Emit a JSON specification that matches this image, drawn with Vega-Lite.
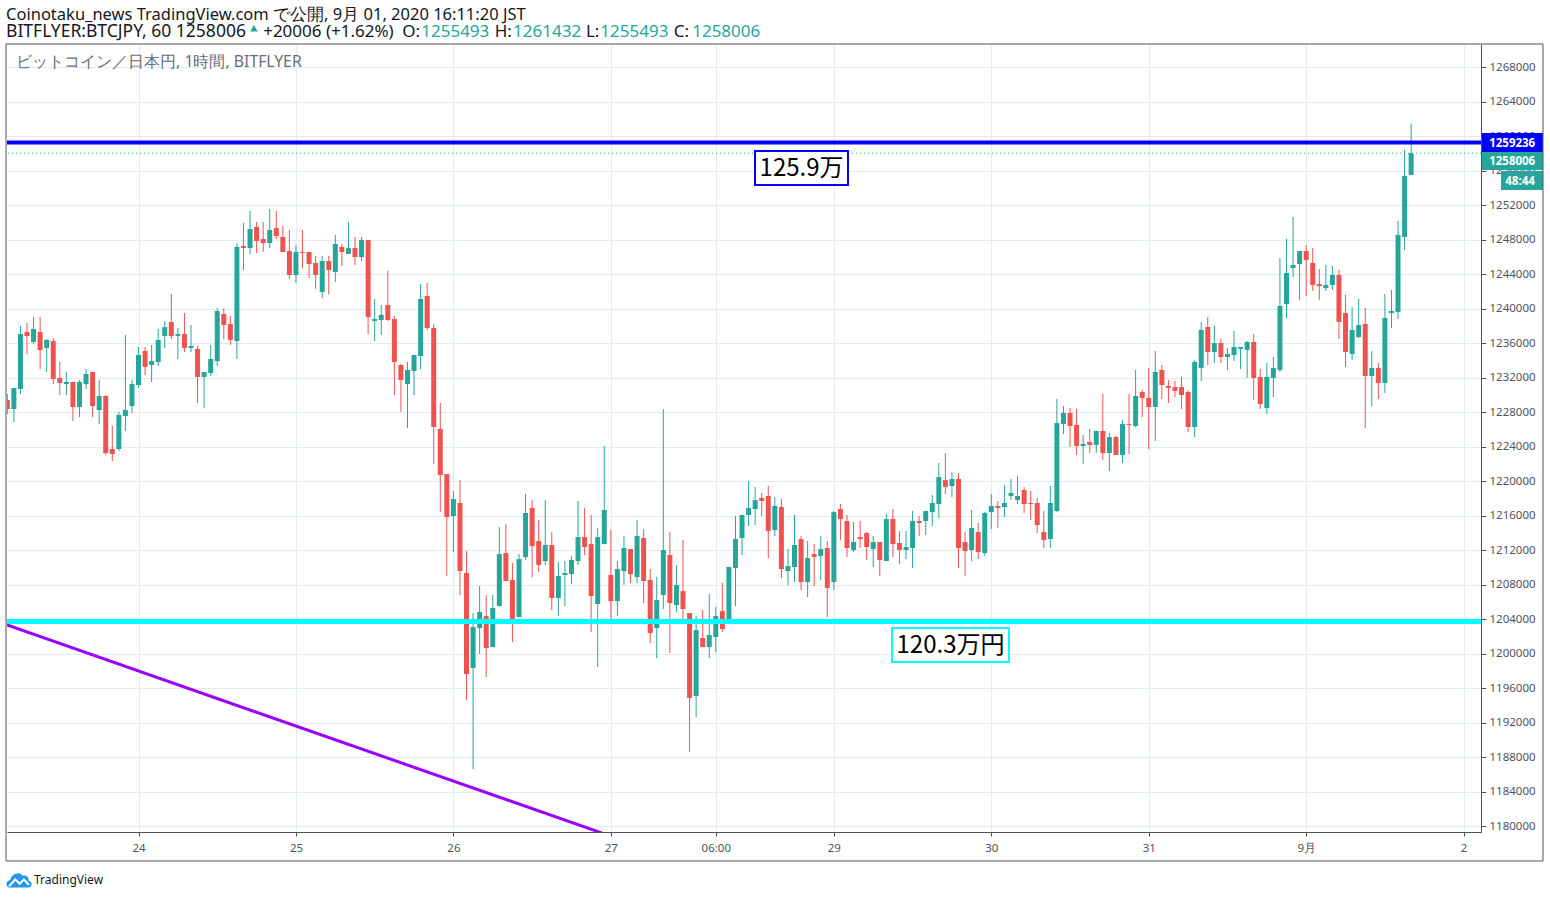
{
  "$schema": "https://vega.github.io/schema/vega-lite/v6.json",
  "description": "BTCJPY hourly candles from BITFLYER with marked price levels",
  "width": 1474,
  "height": 788,
  "autosize": {"type": "none"},
  "padding": {"left": 7, "top": 44, "right": 69, "bottom": 66},
  "background": "#ffffff",
  "config": {"view": {"stroke": null}, "text": {"font": "Noto Sans"}},
  "datasets": {
    "candles": [
      {"t":0,"open":1229390,"high":1230090,"low":1227770,"close":1228350},
      {"t":1,"open":1228350,"high":1230780,"low":1226840,"close":1230780},
      {"t":2,"open":1230670,"high":1237970,"low":1230090,"close":1237040},
      {"t":3,"open":1237280,"high":1238320,"low":1234720,"close":1236810},
      {"t":4,"open":1236120,"high":1239010,"low":1235880,"close":1237620},
      {"t":5,"open":1237280,"high":1239010,"low":1232980,"close":1235190},
      {"t":6,"open":1235420,"high":1236460,"low":1232640,"close":1236350},
      {"t":7,"open":1236230,"high":1236580,"low":1231250,"close":1231830},
      {"t":8,"open":1231940,"high":1233800,"low":1229970,"close":1231360},
      {"t":9,"open":1231250,"high":1232640,"low":1229970,"close":1231480},
      {"t":10,"open":1231480,"high":1231480,"low":1226960,"close":1228580},
      {"t":11,"open":1228580,"high":1231710,"low":1227420,"close":1231480},
      {"t":12,"open":1231250,"high":1232980,"low":1230670,"close":1232410},
      {"t":13,"open":1232640,"high":1232640,"low":1227420,"close":1228690},
      {"t":14,"open":1228230,"high":1231710,"low":1226610,"close":1229850},
      {"t":15,"open":1229850,"high":1229970,"low":1223010,"close":1223250},
      {"t":16,"open":1223710,"high":1226380,"low":1222320,"close":1223130},
      {"t":17,"open":1223710,"high":1228000,"low":1223480,"close":1227650},
      {"t":18,"open":1227540,"high":1236930,"low":1225800,"close":1228230},
      {"t":19,"open":1228690,"high":1231710,"low":1227880,"close":1231250},
      {"t":20,"open":1231130,"high":1235540,"low":1230780,"close":1234610},
      {"t":21,"open":1235070,"high":1235540,"low":1232290,"close":1233220},
      {"t":22,"open":1233450,"high":1235770,"low":1231480,"close":1233910},
      {"t":23,"open":1233800,"high":1237620,"low":1233330,"close":1236350},
      {"t":24,"open":1236810,"high":1238550,"low":1235420,"close":1237850},
      {"t":25,"open":1238430,"high":1241680,"low":1236460,"close":1236810},
      {"t":26,"open":1236810,"high":1237740,"low":1234140,"close":1237040},
      {"t":27,"open":1237040,"high":1239480,"low":1234960,"close":1235420},
      {"t":28,"open":1235420,"high":1238090,"low":1234960,"close":1235650},
      {"t":29,"open":1235300,"high":1235650,"low":1229040,"close":1232060},
      {"t":30,"open":1232060,"high":1232640,"low":1228460,"close":1232640},
      {"t":31,"open":1232520,"high":1235770,"low":1232170,"close":1234140},
      {"t":32,"open":1233910,"high":1240060,"low":1233330,"close":1239710},
      {"t":33,"open":1239360,"high":1240060,"low":1236460,"close":1238090},
      {"t":34,"open":1238200,"high":1239130,"low":1235770,"close":1236350},
      {"t":35,"open":1236230,"high":1247590,"low":1234140,"close":1247130},
      {"t":36,"open":1247250,"high":1249910,"low":1244460,"close":1247010},
      {"t":37,"open":1247010,"high":1251310,"low":1246320,"close":1249220},
      {"t":38,"open":1249450,"high":1250030,"low":1246440,"close":1247830},
      {"t":39,"open":1248060,"high":1250030,"low":1246550,"close":1247590},
      {"t":40,"open":1247590,"high":1251540,"low":1247010,"close":1249100},
      {"t":41,"open":1249330,"high":1251310,"low":1248060,"close":1248410},
      {"t":42,"open":1248290,"high":1249570,"low":1246550,"close":1246550},
      {"t":43,"open":1246670,"high":1249100,"low":1243420,"close":1243880},
      {"t":44,"open":1243880,"high":1247360,"low":1242960,"close":1246550},
      {"t":45,"open":1246550,"high":1249100,"low":1244700,"close":1246440},
      {"t":46,"open":1246550,"high":1246550,"low":1243540,"close":1245160},
      {"t":47,"open":1245280,"high":1246090,"low":1242260,"close":1243880},
      {"t":48,"open":1241910,"high":1246090,"low":1241220,"close":1245510},
      {"t":49,"open":1245510,"high":1246090,"low":1241680,"close":1244460},
      {"t":50,"open":1244230,"high":1248520,"low":1243070,"close":1247480},
      {"t":51,"open":1247130,"high":1247480,"low":1244930,"close":1246550},
      {"t":52,"open":1246320,"high":1250030,"low":1246320,"close":1247010},
      {"t":53,"open":1247010,"high":1248290,"low":1245040,"close":1245970},
      {"t":54,"open":1245970,"high":1248290,"low":1245510,"close":1247940},
      {"t":55,"open":1247940,"high":1247940,"low":1237040,"close":1239010},
      {"t":56,"open":1238550,"high":1241100,"low":1236230,"close":1238780},
      {"t":57,"open":1238670,"high":1240410,"low":1236930,"close":1239250},
      {"t":58,"open":1240410,"high":1244350,"low":1238550,"close":1238670},
      {"t":59,"open":1238780,"high":1239130,"low":1229970,"close":1233800},
      {"t":60,"open":1233450,"high":1233560,"low":1228000,"close":1231710},
      {"t":61,"open":1231250,"high":1233800,"low":1226140,"close":1232870},
      {"t":62,"open":1232750,"high":1234610,"low":1229970,"close":1234610},
      {"t":63,"open":1234490,"high":1242840,"low":1232980,"close":1241100},
      {"t":64,"open":1241450,"high":1242960,"low":1237510,"close":1237740},
      {"t":65,"open":1237740,"high":1238200,"low":1221970,"close":1226260},
      {"t":66,"open":1226030,"high":1229040,"low":1216400,"close":1220690},
      {"t":67,"open":1220810,"high":1220810,"low":1208980,"close":1215820},
      {"t":68,"open":1215940,"high":1218840,"low":1211770,"close":1217910},
      {"t":69,"open":1217450,"high":1220110,"low":1206780,"close":1209560},
      {"t":70,"open":1209330,"high":1211880,"low":1194600,"close":1197620},
      {"t":71,"open":1198320,"high":1204690,"low":1186600,"close":1203070},
      {"t":72,"open":1202950,"high":1207820,"low":1199940,"close":1204810},
      {"t":73,"open":1204340,"high":1206780,"low":1197270,"close":1200630},
      {"t":74,"open":1200750,"high":1206780,"low":1200750,"close":1205270},
      {"t":75,"open":1205500,"high":1214660,"low":1205500,"close":1211530},
      {"t":76,"open":1211650,"high":1215010,"low":1208400,"close":1208400},
      {"t":77,"open":1208520,"high":1210490,"low":1201330,"close":1203880},
      {"t":78,"open":1204230,"high":1211530,"low":1204230,"close":1210950},
      {"t":79,"open":1211190,"high":1218490,"low":1210840,"close":1216290},
      {"t":80,"open":1216870,"high":1217790,"low":1208870,"close":1212460},
      {"t":81,"open":1213040,"high":1215480,"low":1209450,"close":1210260},
      {"t":82,"open":1210720,"high":1217790,"low":1210260,"close":1212580},
      {"t":83,"open":1212580,"high":1214080,"low":1205040,"close":1206430},
      {"t":84,"open":1206430,"high":1210610,"low":1204340,"close":1208980},
      {"t":85,"open":1209100,"high":1210720,"low":1205500,"close":1209330},
      {"t":86,"open":1209210,"high":1211300,"low":1208060,"close":1210840},
      {"t":87,"open":1210720,"high":1217680,"low":1210260,"close":1213500},
      {"t":88,"open":1213500,"high":1216870,"low":1211420,"close":1212350},
      {"t":89,"open":1212690,"high":1216060,"low":1202490,"close":1206660},
      {"t":90,"open":1205740,"high":1214550,"low":1198430,"close":1213500},
      {"t":91,"open":1212690,"high":1224060,"low":1212690,"close":1216640},
      {"t":92,"open":1209100,"high":1214320,"low":1203880,"close":1206080},
      {"t":93,"open":1206080,"high":1210720,"low":1204340,"close":1209790},
      {"t":94,"open":1209560,"high":1213620,"low":1207940,"close":1212230},
      {"t":95,"open":1212110,"high":1212110,"low":1208170,"close":1209210},
      {"t":96,"open":1208870,"high":1215480,"low":1208170,"close":1213620},
      {"t":97,"open":1213390,"high":1214430,"low":1205850,"close":1208400},
      {"t":98,"open":1208520,"high":1209790,"low":1201210,"close":1202370},
      {"t":99,"open":1202950,"high":1208870,"low":1199470,"close":1206200},
      {"t":100,"open":1206780,"high":1228350,"low":1205160,"close":1212000},
      {"t":101,"open":1211420,"high":1214080,"low":1200050,"close":1205850},
      {"t":102,"open":1205620,"high":1210260,"low":1204810,"close":1207940},
      {"t":103,"open":1207240,"high":1213160,"low":1203880,"close":1205160},
      {"t":104,"open":1204690,"high":1204690,"low":1188580,"close":1194840},
      {"t":105,"open":1195070,"high":1204340,"low":1192630,"close":1202720},
      {"t":106,"open":1201790,"high":1205040,"low":1200750,"close":1200750},
      {"t":107,"open":1200750,"high":1206900,"low":1199470,"close":1202140},
      {"t":108,"open":1201910,"high":1205390,"low":1200170,"close":1204340},
      {"t":109,"open":1204920,"high":1208170,"low":1202490,"close":1202840},
      {"t":110,"open":1203420,"high":1210030,"low":1203420,"close":1210030},
      {"t":111,"open":1209910,"high":1215940,"low":1205500,"close":1213270},
      {"t":112,"open":1213390,"high":1216060,"low":1211420,"close":1216060},
      {"t":113,"open":1216060,"high":1220000,"low":1214780,"close":1216870},
      {"t":114,"open":1216750,"high":1219300,"low":1214900,"close":1217790},
      {"t":115,"open":1218030,"high":1218610,"low":1215940,"close":1217680},
      {"t":116,"open":1218260,"high":1219420,"low":1211070,"close":1214200},
      {"t":117,"open":1214320,"high":1218140,"low":1213620,"close":1217100},
      {"t":118,"open":1216980,"high":1217910,"low":1208750,"close":1209790},
      {"t":119,"open":1209560,"high":1212110,"low":1207940,"close":1210140},
      {"t":120,"open":1210030,"high":1216060,"low":1208290,"close":1212580},
      {"t":121,"open":1213270,"high":1213620,"low":1207360,"close":1208290},
      {"t":122,"open":1208290,"high":1213040,"low":1206550,"close":1211070},
      {"t":123,"open":1211530,"high":1212690,"low":1207820,"close":1211190},
      {"t":124,"open":1211300,"high":1213620,"low":1208520,"close":1212110},
      {"t":125,"open":1212230,"high":1213040,"low":1204230,"close":1207590},
      {"t":126,"open":1208290,"high":1216520,"low":1207360,"close":1216400},
      {"t":127,"open":1216750,"high":1217330,"low":1213160,"close":1215590},
      {"t":128,"open":1215360,"high":1216060,"low":1211190,"close":1212230},
      {"t":129,"open":1212000,"high":1215250,"low":1211770,"close":1212930},
      {"t":130,"open":1213510,"high":1215360,"low":1212230,"close":1213270},
      {"t":131,"open":1213970,"high":1214090,"low":1210840,"close":1212350},
      {"t":132,"open":1212110,"high":1213620,"low":1210030,"close":1212930},
      {"t":133,"open":1212930,"high":1212930,"low":1208980,"close":1210840},
      {"t":134,"open":1210720,"high":1216170,"low":1210720,"close":1215590},
      {"t":135,"open":1215590,"high":1216750,"low":1211190,"close":1212690},
      {"t":136,"open":1212810,"high":1214200,"low":1210380,"close":1212000},
      {"t":137,"open":1212000,"high":1214200,"low":1210950,"close":1212350},
      {"t":138,"open":1212230,"high":1216520,"low":1209910,"close":1215360},
      {"t":139,"open":1215360,"high":1215940,"low":1213620,"close":1215130},
      {"t":140,"open":1215360,"high":1216520,"low":1213740,"close":1216520},
      {"t":141,"open":1216400,"high":1218380,"low":1214780,"close":1217450},
      {"t":142,"open":1217330,"high":1222090,"low":1215710,"close":1220460},
      {"t":143,"open":1220110,"high":1223250,"low":1218490,"close":1219300},
      {"t":144,"open":1219420,"high":1221040,"low":1218140,"close":1220230},
      {"t":145,"open":1220230,"high":1220930,"low":1209910,"close":1212230},
      {"t":146,"open":1212930,"high":1214090,"low":1208980,"close":1211880},
      {"t":147,"open":1212000,"high":1216640,"low":1210720,"close":1214550},
      {"t":148,"open":1214090,"high":1215130,"low":1210950,"close":1211770},
      {"t":149,"open":1211650,"high":1216400,"low":1211300,"close":1216290},
      {"t":150,"open":1216400,"high":1218490,"low":1214430,"close":1217100},
      {"t":151,"open":1217100,"high":1217680,"low":1214550,"close":1216870},
      {"t":152,"open":1216980,"high":1219540,"low":1215820,"close":1217450},
      {"t":153,"open":1218260,"high":1220230,"low":1217800,"close":1218610},
      {"t":154,"open":1217800,"high":1220580,"low":1217330,"close":1218260},
      {"t":155,"open":1218960,"high":1219300,"low":1216290,"close":1217330},
      {"t":156,"open":1217450,"high":1218840,"low":1215480,"close":1217330},
      {"t":157,"open":1217450,"high":1218030,"low":1213970,"close":1214900},
      {"t":158,"open":1214090,"high":1216520,"low":1212230,"close":1213160},
      {"t":159,"open":1213270,"high":1219420,"low":1212230,"close":1217450},
      {"t":160,"open":1216520,"high":1229510,"low":1216400,"close":1226720},
      {"t":161,"open":1226610,"high":1228700,"low":1225450,"close":1227890},
      {"t":162,"open":1227890,"high":1228470,"low":1223950,"close":1226380},
      {"t":163,"open":1226500,"high":1228350,"low":1223020,"close":1224060},
      {"t":164,"open":1224060,"high":1225340,"low":1221970,"close":1224290},
      {"t":165,"open":1224530,"high":1226030,"low":1223250,"close":1224180},
      {"t":166,"open":1224180,"high":1225800,"low":1223250,"close":1225800},
      {"t":167,"open":1225800,"high":1230090,"low":1222440,"close":1223250},
      {"t":168,"open":1223250,"high":1225570,"low":1221160,"close":1225100},
      {"t":169,"open":1225100,"high":1225220,"low":1223020,"close":1223020},
      {"t":170,"open":1223020,"high":1227080,"low":1222090,"close":1226610},
      {"t":171,"open":1226610,"high":1230090,"low":1223130,"close":1226500},
      {"t":172,"open":1226380,"high":1232870,"low":1226260,"close":1229860},
      {"t":173,"open":1230320,"high":1230550,"low":1227420,"close":1229630},
      {"t":174,"open":1229630,"high":1233110,"low":1223710,"close":1228580},
      {"t":175,"open":1228580,"high":1235080,"low":1224640,"close":1232640},
      {"t":176,"open":1232870,"high":1233450,"low":1229510,"close":1231130},
      {"t":177,"open":1231020,"high":1231710,"low":1229050,"close":1230790},
      {"t":178,"open":1230900,"high":1231600,"low":1229740,"close":1230440},
      {"t":179,"open":1230900,"high":1232060,"low":1228350,"close":1229970},
      {"t":180,"open":1230320,"high":1230550,"low":1225680,"close":1226260},
      {"t":181,"open":1226260,"high":1234030,"low":1225100,"close":1233800},
      {"t":182,"open":1233110,"high":1238440,"low":1231600,"close":1237510},
      {"t":183,"open":1237860,"high":1239020,"low":1233450,"close":1234960},
      {"t":184,"open":1234960,"high":1238090,"low":1233690,"close":1236000},
      {"t":185,"open":1236000,"high":1236470,"low":1233690,"close":1234380},
      {"t":186,"open":1234380,"high":1235420,"low":1232870,"close":1234730},
      {"t":187,"open":1234610,"high":1237400,"low":1233920,"close":1235540},
      {"t":188,"open":1235310,"high":1235540,"low":1232990,"close":1235540},
      {"t":189,"open":1235190,"high":1236240,"low":1231950,"close":1236120},
      {"t":190,"open":1236120,"high":1237050,"low":1229390,"close":1231950},
      {"t":191,"open":1232060,"high":1232990,"low":1228350,"close":1228930},
      {"t":192,"open":1228470,"high":1233680,"low":1227770,"close":1232060},
      {"t":193,"open":1231950,"high":1234380,"low":1229740,"close":1233100},
      {"t":194,"open":1232870,"high":1245860,"low":1232640,"close":1240290},
      {"t":195,"open":1240530,"high":1248060,"low":1238900,"close":1244120},
      {"t":196,"open":1244700,"high":1250610,"low":1243660,"close":1245050},
      {"t":197,"open":1245160,"high":1246670,"low":1240990,"close":1246670},
      {"t":198,"open":1246670,"high":1247370,"low":1241450,"close":1245630},
      {"t":199,"open":1245280,"high":1247020,"low":1242030,"close":1242730},
      {"t":200,"open":1242840,"high":1244580,"low":1240990,"close":1242610},
      {"t":201,"open":1242380,"high":1245050,"low":1242030,"close":1242730},
      {"t":202,"open":1242730,"high":1244930,"low":1242150,"close":1243890},
      {"t":203,"open":1243890,"high":1244470,"low":1236470,"close":1238440},
      {"t":204,"open":1239480,"high":1241570,"low":1233220,"close":1234960},
      {"t":205,"open":1234730,"high":1240180,"low":1234030,"close":1237510},
      {"t":206,"open":1236700,"high":1241110,"low":1236580,"close":1238090},
      {"t":207,"open":1238210,"high":1240060,"low":1226150,"close":1232180},
      {"t":208,"open":1232180,"high":1235080,"low":1228700,"close":1233100},
      {"t":209,"open":1233100,"high":1233680,"low":1229510,"close":1231370},
      {"t":210,"open":1231370,"high":1241690,"low":1230210,"close":1238900},
      {"t":211,"open":1239480,"high":1242150,"low":1237740,"close":1239710},
      {"t":212,"open":1239600,"high":1250150,"low":1238790,"close":1248530},
      {"t":213,"open":1248290,"high":1258380,"low":1246790,"close":1255370},
      {"t":214,"open":1255493,"high":1261432,"low":1255493,"close":1258006}
    ],
    "boxes": [
      {"t":113.98,"t2":128.15,"p":1258261,"p2":1254319,"kind":"top"},
      {"t":134.86,"t2":152.7,"p":1202958,"p2":1199016,"kind":"bottom"}
    ],
    "tags": [
      {"t":224.8,"t2":234.1,"p":1260348,"p2":1258145,"kind":"level"},
      {"t":224.8,"t2":234.1,"p":1258145,"p2":1256058,"kind":"last"},
      {"t":227.7,"t2":234.1,"p":1255942,"p2":1253739,"kind":"last"}
    ],
    "tagText": [
      {"t":229.4,"p":1259120,"label":"1259236"},
      {"t":229.4,"p":1256986,"label":"1258006"},
      {"t":230.6,"p":1254667,"label":"48:44"}
    ],
    "header": [
      {"t":-0.2,"p":1274029,"label":"Coinotaku_news TradingView.com で公開, 9月 01, 2020 16:11:20 JST","kind":"dark","size":16.5},
      {"t":-0.2,"p":1272058,"label":"BITFLYER:BTCJPY, 60 1258006","kind":"dark","size":17.5},
      {"t":39,"p":1272058,"label":"+20006 (+1.62%)","kind":"dark","size":17},
      {"t":60.2,"p":1272058,"label":"O:","kind":"dark","size":17},
      {"t":63.1,"p":1272058,"label":"1255493","kind":"up","size":17},
      {"t":74.3,"p":1272058,"label":"H:","kind":"dark","size":17},
      {"t":77.1,"p":1272058,"label":"1261432","kind":"up","size":17},
      {"t":88.2,"p":1272058,"label":"L:","kind":"dark","size":17},
      {"t":90.4,"p":1272058,"label":"1255493","kind":"up","size":17},
      {"t":101.6,"p":1272058,"label":"C:","kind":"dark","size":17},
      {"t":104.4,"p":1272058,"label":"1258006","kind":"up","size":17}
    ]
  },
  "layer": [
    {
      "data": {"name": "candles"},
      "mark": {"type": "rule", "strokeWidth": 1, "clip": true},
      "encoding": {
        "x": {
          "field": "t",
          "type": "quantitative",
          "scale": {"domain": [-0.05, 224.65], "nice": false, "zero": false, "padding": 0},
          "axis": {
            "title": null,
            "orient": "bottom",
            "values": [20, 44, 68, 92, 108, 126, 150, 174, 198, 222],
            "tickCount": 30,
            "labelExpr": "{'20':'24','44':'25','68':'26','92':'27','108':'06:00','126':'29','150':'30','174':'31','198':'9月','222':'2'}[datum.value]",
            "grid": true,
            "gridColor": "#e1ecf2",
            "domainColor": "#50535e",
            "tickColor": "#50535e",
            "tickSize": 4,
            "labelColor": "#50535e",
            "labelFont": "Noto Sans",
            "labelFontSize": 11.5,
            "labelPadding": 6
          }
        },
        "y": {
          "field": "low",
          "type": "quantitative",
          "scale": {"domain": [1179306, 1270667], "nice": false, "zero": false, "padding": 0},
          "axis": {
            "title": null,
            "orient": "right",
            "values": [1180000,1184000,1188000,1192000,1196000,1200000,1204000,1208000,1212000,1216000,1220000,1224000,1228000,1232000,1236000,1240000,1244000,1248000,1252000,1256000,1260000,1264000,1268000],
            "tickCount": 30,
            "format": "d",
            "labelOverlap": false,
            "grid": true,
            "gridColor": "#e1ecf2",
            "domainColor": "#50535e",
            "tickColor": "#50535e",
            "tickSize": 5,
            "labelColor": "#50535e",
            "labelFont": "Noto Sans",
            "labelFontSize": 11.5,
            "labelPadding": 3
          }
        },
        "y2": {"field": "high"},
        "color": {"condition": {"test": "datum.close >= datum.open", "value": "#26a69a"}, "value": "#ef5350"}
      }
    },
    {
      "data": {"name": "candles"},
      "mark": {"type": "bar", "size": 5, "orient": "vertical", "clip": true},
      "encoding": {
        "x": {"field": "t", "type": "quantitative", "title": null},
        "y": {"field": "open", "type": "quantitative", "title": null},
        "y2": {"field": "close"},
        "color": {"condition": {"test": "datum.close >= datum.open", "value": "#26a69a"}, "value": "#ef5350"}
      }
    },
    {
      "data": {"values": [{"p": 1258006}]},
      "mark": {"type": "rule", "color": "#26a69a", "strokeDash": [1, 3], "strokeWidth": 1},
      "encoding": {"y": {"field": "p", "type": "quantitative", "title": null}}
    },
    {
      "data": {"values": [{"p": 1259236}]},
      "mark": {"type": "rule", "color": "#0000ff", "strokeWidth": 4},
      "encoding": {"y": {"field": "p", "type": "quantitative", "title": null}}
    },
    {
      "data": {"values": [{"p": 1203711}]},
      "mark": {"type": "rule", "color": "#00ffff", "strokeWidth": 5},
      "encoding": {"y": {"field": "p", "type": "quantitative", "title": null}}
    },
    {
      "data": {"values": [{"t": -0.05, "p": 1203306}, {"t": 90.6, "p": 1179200}]},
      "mark": {"type": "line", "color": "#9900ff", "strokeWidth": 3, "clip": true},
      "encoding": {
        "x": {"field": "t", "type": "quantitative", "title": null},
        "y": {"field": "p", "type": "quantitative", "title": null}
      }
    },
    {
      "data": {"name": "boxes"},
      "mark": {"type": "rect", "fill": "#ffffff", "strokeWidth": 2},
      "encoding": {
        "x": {"field": "t", "type": "quantitative", "title": null},
        "x2": {"field": "t2"},
        "y": {"field": "p", "type": "quantitative", "title": null},
        "y2": {"field": "p2"},
        "stroke": {"condition": {"test": "datum.kind == 'top'", "value": "#0000ff"}, "value": "#00ffff"}
      }
    },
    {
      "data": {"values": [{"t": 121.07, "p": 1256174, "label": "125.9万"}, {"t": 143.78, "p": 1200871, "label": "120.3万円"}]},
      "mark": {"type": "text", "fontSize": 24, "color": "#000000", "font": "Noto Sans CJK JP"},
      "encoding": {
        "x": {"field": "t", "type": "quantitative", "title": null},
        "y": {"field": "p", "type": "quantitative", "title": null},
        "text": {"field": "label"}
      }
    },
    {
      "data": {"values": [{"t": 1.33, "p": 1268580, "label": "ビットコイン／日本円, 1時間, BITFLYER"}]},
      "mark": {"type": "text", "align": "left", "fontSize": 15.8, "color": "#6a6d78"},
      "encoding": {
        "x": {"field": "t", "type": "quantitative", "title": null},
        "y": {"field": "p", "type": "quantitative", "title": null},
        "text": {"field": "label"}
      }
    },
    {
      "data": {"name": "tags"},
      "mark": {"type": "rect"},
      "encoding": {
        "x": {"field": "t", "type": "quantitative", "title": null},
        "x2": {"field": "t2"},
        "y": {"field": "p", "type": "quantitative", "title": null},
        "y2": {"field": "p2"},
        "color": {"condition": {"test": "datum.kind == 'level'", "value": "#0000ff"}, "value": "#26a69a"}
      }
    },
    {
      "data": {"name": "tagText"},
      "mark": {"type": "text", "fontSize": 11.5, "fontWeight": "bold", "color": "#ffffff"},
      "encoding": {
        "x": {"field": "t", "type": "quantitative", "title": null},
        "y": {"field": "p", "type": "quantitative", "title": null},
        "text": {"field": "label"}
      }
    },
    {
      "data": {"values": [{"t": -0.2, "t2": 234.1, "p": 1270667, "p2": 1175946}]},
      "mark": {"type": "rect", "filled": false, "stroke": "#50535e", "strokeWidth": 1},
      "encoding": {
        "x": {"field": "t", "type": "quantitative", "title": null},
        "x2": {"field": "t2"},
        "y": {"field": "p", "type": "quantitative", "title": null},
        "y2": {"field": "p2"}
      }
    },
    {
      "data": {"name": "header"},
      "mark": {"type": "text", "align": "left"},
      "encoding": {
        "x": {"field": "t", "type": "quantitative", "title": null},
        "y": {"field": "p", "type": "quantitative", "title": null},
        "text": {"field": "label"},
        "size": {"field": "size", "type": "quantitative", "scale": null, "legend": null},
        "color": {"condition": {"test": "datum.kind == 'up'", "value": "#26a69a"}, "value": "#131722"}
      }
    },
    {
      "data": {"values": [{"t": 37.6, "p": 1272500}]},
      "mark": {"type": "point", "shape": "triangle-up", "filled": true, "opacity": 1, "size": 55, "color": "#26a69a"},
      "encoding": {
        "x": {"field": "t", "type": "quantitative", "title": null},
        "y": {"field": "p", "type": "quantitative", "title": null}
      }
    },
    {
      "data": {"values": [{"t": 1.78, "p": 1173739}]},
      "mark": {
        "type": "point",
        "filled": true,
        "opacity": 1,
        "size": 620,
        "color": "#2196f3",
        "shape": "M-0.75 0.6 C-1.1 0.6 -1.1 0.05 -0.7 0 C-0.6 -0.5 0 -0.75 0.3 -0.35 C0.6 -0.45 0.85 -0.2 0.75 0.05 C1.1 0.1 1.1 0.6 0.75 0.6 Z"
      },
      "encoding": {
        "x": {"field": "t", "type": "quantitative", "title": null},
        "y": {"field": "p", "type": "quantitative", "title": null}
      }
    },
    {
      "data": {"values": [{"t": 1.78, "p": 1173739}]},
      "mark": {
        "type": "point",
        "filled": false,
        "opacity": 1,
        "size": 620,
        "color": "#ffffff",
        "strokeWidth": 2,
        "shape": "M-0.8 0.5 L-0.3 -0.05 L0.05 0.3 L0.4 -0.05 L0.8 0.4"
      },
      "encoding": {
        "x": {"field": "t", "type": "quantitative", "title": null},
        "y": {"field": "p", "type": "quantitative", "title": null}
      }
    },
    {
      "data": {"values": [{"t": 4.07, "p": 1173739, "label": "TradingView"}]},
      "mark": {"type": "text", "align": "left", "fontSize": 12, "color": "#131722"},
      "encoding": {
        "x": {"field": "t", "type": "quantitative", "title": null},
        "y": {"field": "p", "type": "quantitative", "title": null},
        "text": {"field": "label"}
      }
    }
  ]
}
